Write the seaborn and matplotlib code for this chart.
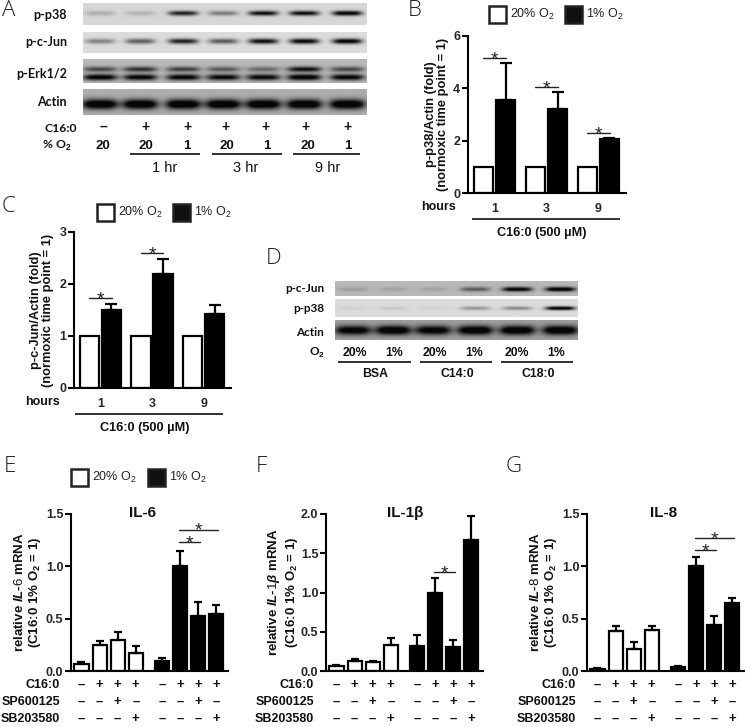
"""Hypoxia / saturated fatty acid figure: western blots (A, D) and bar panels (B, C, E, F, G)."""

import numpy as np
import pandas as pd
import matplotlib
matplotlib.use("Agg")
import matplotlib.pyplot as plt
from matplotlib.patches import Rectangle
import seaborn as sns

# ── Fold-change panels ───────────────────────────────────────────────────────
HOURS = ["1", "3", "9"]
OXYGEN = ["20%", "1%"]

P38_NORMOXIC = [1.0, 1.0, 1.0]
P38_HYPOXIC = [3.55, 3.2, 2.05]
P38_HYPOXIC_TOP = [4.95, 3.85, 2.09]
P38_STARS = [5.16, 4.05, 2.29]

JUN_NORMOXIC = [1.0, 1.0, 1.0]
JUN_HYPOXIC = [1.5, 2.2, 1.42]
JUN_HYPOXIC_TOP = [1.62, 2.48, 1.6]
JUN_STARS = [1.73, 2.6, None]

# ── mRNA panels ──────────────────────────────────────────────────────────────
C16_ROW = ["–", "+", "+", "+", "–", "+", "+", "+"]
SP_ROW = ["–", "–", "+", "–", "–", "–", "+", "–"]
SB_ROW = ["–", "–", "–", "+", "–", "–", "–", "+"]

IL6_VALUES = [0.07, 0.25, 0.30, 0.17, 0.10, 1.0, 0.53, 0.54]
IL6_TOPS = [0.09, 0.29, 0.37, 0.24, 0.12, 1.15, 0.66, 0.63]
IL6_BRACKETS = [(5, 6, 1.23), (5, 7, 1.35)]

IL1B_VALUES = [0.06, 0.13, 0.12, 0.33, 0.32, 1.0, 0.31, 1.67]
IL1B_TOPS = [0.08, 0.15, 0.13, 0.42, 0.46, 1.18, 0.39, 1.97]
IL1B_BRACKETS = [(5, 6, 1.26)]

IL8_VALUES = [0.02, 0.38, 0.21, 0.39, 0.04, 1.0, 0.44, 0.65]
IL8_TOPS = [0.03, 0.43, 0.28, 0.43, 0.05, 1.09, 0.53, 0.70]
IL8_BRACKETS = [(5, 6, 1.155), (5, 7, 1.27)]

# ── Blot band strengths ──────────────────────────────────────────────────────
A_P38 = [0.2, 0.18, 0.9, 0.45, 1.0, 1.0, 1.1]
A_JUN = [0.42, 0.6, 0.9, 0.62, 1.0, 1.05, 1.1]
A_ERK_UPPER = [0.65, 0.8, 0.7, 0.55, 0.45, 1.0, 0.65]
A_ERK_LOWER = [1.15, 1.1, 1.1, 1.05, 1.05, 1.2, 1.1]
A_ACTIN = [1.3, 1.3, 1.3, 1.3, 1.3, 1.3, 1.3]
D_JUN = [0.15, 0.12, 0.12, 0.55, 1.15, 1.25]
D_P38 = [0.06, 0.1, 0.05, 0.35, 0.4, 1.2]
D_ACTIN = [1.2, 1.3, 1.2, 1.3, 1.3, 1.3]

A_TOP_SIGNS = ["–", "+", "+", "+", "+", "+", "+"]
A_O2_LABELS = ["20", "20", "1", "20", "1", "20", "1"]
D_O2_LABELS = ["20%", "1%", "20%", "1%", "20%", "1%"]

W, H = 745, 727
BLACK = "#000000"
BOLD = dict(fontweight="bold", family="Liberation Sans", color="#111111")

sns.set_style("ticks")
plt.rcParams["font.family"] = ["Liberation Sans", "DejaVu Sans"]
plt.rcParams["mathtext.fontset"] = "custom"
plt.rcParams["mathtext.rm"] = "Liberation Sans"
plt.rcParams["mathtext.bf"] = "Liberation Sans:bold"
plt.rcParams["mathtext.it"] = "Liberation Sans:italic:bold"

fig = plt.figure(figsize=(W / 100, H / 100), dpi=100, facecolor="white")


def axes_from_px(left, top, right, bottom):
    """Axes placed by pixel box, origin at the top left of the figure."""
    ax = fig.add_axes([left / W, 1 - bottom / H, (right - left) / W, (bottom - top) / H])
    ax.patch.set_visible(False)
    return ax


# Transparent overlay in pixel coordinates for labels, rules and blots
page = fig.add_axes([0, 0, 1, 1], zorder=5)
page.patch.set_visible(False)
page.axis("off")


def rule(x0, x1, y, lw=1.3):
    page.plot([x0, x1], [y, y], color="#222222", lw=lw, solid_capstyle="butt")


def label(x, y, s, size=9, ha="center", **kw):
    style = {**BOLD, **kw}
    page.text(x, y, s, fontsize=size, ha=ha, va="center", **style)


def panel_letter(x, y, s):
    page.text(x, y, s, fontsize=16, family="Open Sans", fontweight="light",
              color="#222222", ha="left", va="center")


def side_label(x, y, s, size, spacing):
    page.text(x, y, s, rotation=90, fontsize=size, ha="center", va="center",
              linespacing=spacing, multialignment="center", **BOLD)


def oxygen_key(x_white, x_black, y):
    """Filled and open squares with the oxygen labels."""
    for x, face, text in [(x_white, "white", "20%"), (x_black, "#111111", "1%")]:
        page.add_patch(Rectangle((x, y - 8.5), 17, 17, facecolor=face,
                                 edgecolor="#222222", lw=1.8))
        page.text(x + 21, y + 0.5, text + r" O$_2$", fontsize=9,
                  family="Liberation Sans", color="#222222", ha="left", va="center")


def blot(box, bg, centers, half_w, bands):
    """One membrane strip; bands = [(strengths, y offset px, half height px)]."""
    x0, y0, x1, y1 = box
    xx, yy = np.meshgrid(np.arange(x0, x1, 0.5), np.arange(y0, y1, 0.5))
    img = np.full(xx.shape, float(bg))
    for strengths, yc, half_h in bands:
        for cx, s in zip(centers, strengths):
            shape = np.exp(-(((xx - cx) / half_w) ** 4) - (((yy - y0 - yc) / half_h) ** 2))
            img -= s * (bg - 0.03) * shape
    page.imshow(np.clip(img, 0.03, 1), cmap="gray", vmin=0, vmax=1, aspect="auto",
                extent=(x0, x1, y1, y0), interpolation="bilinear")


def draw_brackets(ax, xs, brackets):
    for i, j, level in brackets:
        ax.plot([xs[i] - 0.08, xs[j] + 0.08], [level, level], color="#222222", lw=1.0)
        ax.annotate("*", ((xs[i] + xs[j]) / 2, level), xytext=(0, -4.5), textcoords="offset points",
                    ha="center", va="baseline", fontsize=14, family="Liberation Sans", color="#222222")


def finish_axes(ax, ymax, ticks, fmt):
    ax.set_ylim(0, ymax)
    ax.set_yticks(ticks)
    ax.set_yticklabels([fmt.format(t) for t in ticks], fontsize=9, fontweight="bold")
    ax.tick_params(axis="y", width=1.5, length=4, pad=1.5, color=BLACK)
    sns.despine(ax=ax)
    for side in ("left", "bottom"):
        ax.spines[side].set_linewidth(1.5)
        ax.spines[side].set_color(BLACK)


def fold_panel(box, normoxic, hypoxic, tops, stars, ymax, ticks):
    ax = axes_from_px(*box)
    df = pd.DataFrame({
        "hours": HOURS * 2,
        "oxygen": [OXYGEN[0]] * 3 + [OXYGEN[1]] * 3,
        "fold": normoxic + hypoxic,
    })
    sns.barplot(data=df, x="hours", y="fold", hue="oxygen", order=HOURS, hue_order=OXYGEN,
                palette=["white", BLACK], edgecolor=BLACK, linewidth=1.6, width=0.85,
                gap=0.12, errorbar=None, legend=False, ax=ax)
    black_bars = ax.containers[1]
    xs = [b.get_x() + b.get_width() / 2 for b in black_bars]
    ax.errorbar(xs, hypoxic, yerr=[np.zeros(3), np.array(tops) - np.array(hypoxic)], fmt="none",
                ecolor=BLACK, elinewidth=1.6, capsize=4.2, capthick=1.6, zorder=1)
    for k, level in enumerate(stars):
        if level is None:
            continue
        ax.plot([k - 0.22, k + 0.22], [level, level], color="#222222", lw=1.0)
        ax.annotate("*", (k, level), xytext=(0, -4.5), textcoords="offset points", ha="center",
                    va="baseline", fontsize=14, family="Liberation Sans", color="#222222")
    ax.set_xlim(-0.51, 2.53)
    ax.set_xlabel("")
    ax.set_ylabel("")
    ax.tick_params(axis="x", length=0, pad=7.5)
    ax.set_xticks(range(3))
    ax.set_xticklabels(HOURS, fontsize=9, fontweight="bold")
    finish_axes(ax, ymax, ticks, "{:d}")
    return ax


def mrna_panel(box, values, tops, brackets, ymax, ticks, title, title_x, ylabel, label_right):
    ax = axes_from_px(*box)
    # Second treatment group sits a little further along than the even bar spacing
    xs = [i + (0.45 if i > 3 else 0.0) for i in range(len(values))]
    df = pd.DataFrame({"pos": xs, "mrna": values, "oxygen": [OXYGEN[0]] * 4 + [OXYGEN[1]] * 4})
    sns.barplot(data=df, x="pos", y="mrna", hue="oxygen", hue_order=OXYGEN, native_scale=True,
                dodge=False, palette=["white", BLACK], edgecolor=BLACK, linewidth=1.6,
                width=0.78, errorbar=None, legend=False, ax=ax)
    ax.errorbar(xs, values, yerr=[np.zeros(8), np.array(tops) - np.array(values)], fmt="none",
                ecolor=BLACK, elinewidth=1.6, capsize=3.0, capthick=1.6, zorder=1)
    draw_brackets(ax, xs, brackets)
    ax.set_xlim(-0.58, 8.1)
    ax.set_xlabel("")
    ax.set_ylabel("")
    ax.set_xticks([])
    finish_axes(ax, ymax, ticks, "{:.1f}")

    left, _, right, _ = box
    x_of = lambda v: left + (v + 0.58) / 8.68 * (right - left)
    for row_y, name, row in [(685, "C16:0", C16_ROW), (702, "SP600125", SP_ROW), (719, "SB203580", SB_ROW)]:
        label(label_right, row_y, name, size=9, ha="right")
        for x, sign in zip(xs, row):
            label(x_of(x), row_y, sign, size=9.5)
    label(title_x, 513, title, size=11)
    side_label(left - 43, 592, ylabel, 9.5, 1.12)
    return ax


# ── Panel A ──────────────────────────────────────────────────────────────────
A_CENTERS = [100, 140, 183, 223, 263, 304, 347]
blot((83, 3, 367, 25), 0.84, A_CENTERS, 15, [(A_P38, 10, 2.4)])
blot((83, 32, 367, 53), 0.86, A_CENTERS, 15, [(A_JUN, 9, 2.6)])
blot((83, 59, 367, 83), 0.72, A_CENTERS, 17, [(A_ERK_UPPER, 10, 2.6), (A_ERK_LOWER, 18, 3.0)])
blot((83, 89, 367, 115), 0.68, A_CENTERS, 18, [(A_ACTIN, 15, 5.0)])
for y, name in [(15, "p-p38"), (42, "p-c-Jun"), (74, "p-Erk1/2"), (102, "Actin")]:
    label(67, y, name, size=9, ha="right", family="Lato")
label(77, 128, "C16:0", size=8.8, ha="right", family="Lato")
label(71, 146, r"% O$\mathbf{_2}$", size=8.8, ha="right", family="Lato")
for x, s in zip([103, 145, 187, 226, 266, 306, 347], A_TOP_SIGNS):
    label(x, 127, s, size=10)
for x, s in zip([103, 146, 187, 227, 267, 308, 348], A_O2_LABELS):
    label(x, 146, s, size=9.5)
for x0, x1, mid, s in [(130, 200, 165, "1 hr"), (212, 282, 246, "3 hr"), (293, 360, 328, "9 hr")]:
    rule(x0, x1, 154)
    label(mid, 168, s, size=10.5, fontweight="normal")
panel_letter(2, 11, "A")

# ── Panel B ──────────────────────────────────────────────────────────────────
fold_panel((468, 36, 626, 193), P38_NORMOXIC, P38_HYPOXIC, P38_HYPOXIC_TOP, P38_STARS, 6, [0, 2, 4, 6])
oxygen_key(489, 565, 14)
label(438, 207, "hours", size=9)
rule(472, 620, 219)
label(542, 233, "C16:0 (500 µM)", size=9.2)
side_label(437, 114, "p-p38/Actin (fold)\n(normoxic time point = 1)", 9.3, 1.05)
panel_letter(408, 10, "B")

# ── Panel C ──────────────────────────────────────────────────────────────────
fold_panel((74, 232, 231, 388), JUN_NORMOXIC, JUN_HYPOXIC, JUN_HYPOXIC_TOP, JUN_STARS, 3, [0, 1, 2, 3])
oxygen_key(97, 173, 212)
label(42, 402, "hours", size=9)
rule(75, 223, 414)
label(145, 428, "C16:0 (500 µM)", size=9.2)
side_label(42, 310, "p-c-Jun/Actin (fold)\n(normoxic time point = 1)", 9.3, 1.05)
panel_letter(2, 207, "C")

# ── Panel D ──────────────────────────────────────────────────────────────────
D_CENTERS = [353, 393, 433, 475, 517, 560]
blot((335, 281, 578, 296), 0.72, D_CENTERS, 15, [(D_JUN, 8, 2.2)])
blot((335, 299, 578, 317), 0.86, D_CENTERS, 15, [(D_P38, 9, 1.8)])
blot((335, 320, 578, 340), 0.62, D_CENTERS, 18, [(D_ACTIN, 10, 4.6)])
for y, name in [(288, "p-c-Jun"), (308, "p-p38"), (332, "Actin")]:
    label(324, y, name, size=8.5, ha="right", family="Lato")
label(325, 353, r"O$\mathbf{_2}$", size=8.5, ha="right", family="Lato")
for x, s in zip([355, 394, 435, 474, 517, 556], D_O2_LABELS):
    label(x, 353, s, size=8.8)
for x0, x1, mid, s in [(338, 411, 375, "BSA"), (420, 492, 457, "C14:0"), (501, 573, 538, "C18:0")]:
    rule(x0, x1, 362)
    label(mid, 374, s, size=8.8)
panel_letter(266, 259, "D")

# ── Panels E, F, G ───────────────────────────────────────────────────────────
mrna_panel((71, 514, 228, 671), IL6_VALUES, IL6_TOPS, IL6_BRACKETS, 1.5, [0, 0.5, 1.0, 1.5], "IL-6", 143,
           "relative $\\mathit{IL}$-$\\mathit{6}$ mRNA\n(C16:0 1% O$\\mathbf{_2}$ = 1)", 60)
mrna_panel((326, 514, 483, 671), IL1B_VALUES, IL1B_TOPS, IL1B_BRACKETS, 2.0, [0, 0.5, 1.0, 1.5, 2.0], "IL-1β", 405,
           "relative $\\mathit{IL}$-$\\mathit{1β}$ mRNA\n(C16:0 1% O$\\mathbf{_2}$ = 1)", 314)
mrna_panel((587, 514, 744, 671), IL8_VALUES, IL8_TOPS, IL8_BRACKETS, 1.5, [0, 0.5, 1.0, 1.5], "IL-8", 664,
           "relative $\\mathit{IL}$-$\\mathit{8}$ mRNA\n(C16:0 1% O$\\mathbf{_2}$ = 1)", 576)
oxygen_key(71, 148, 477)
panel_letter(4, 466, "E")
panel_letter(256, 466, "F")
panel_letter(506, 466, "G")

page.set_xlim(0, W)
page.set_ylim(H, 0)

fig.savefig("out.png", dpi=100, facecolor="white")
